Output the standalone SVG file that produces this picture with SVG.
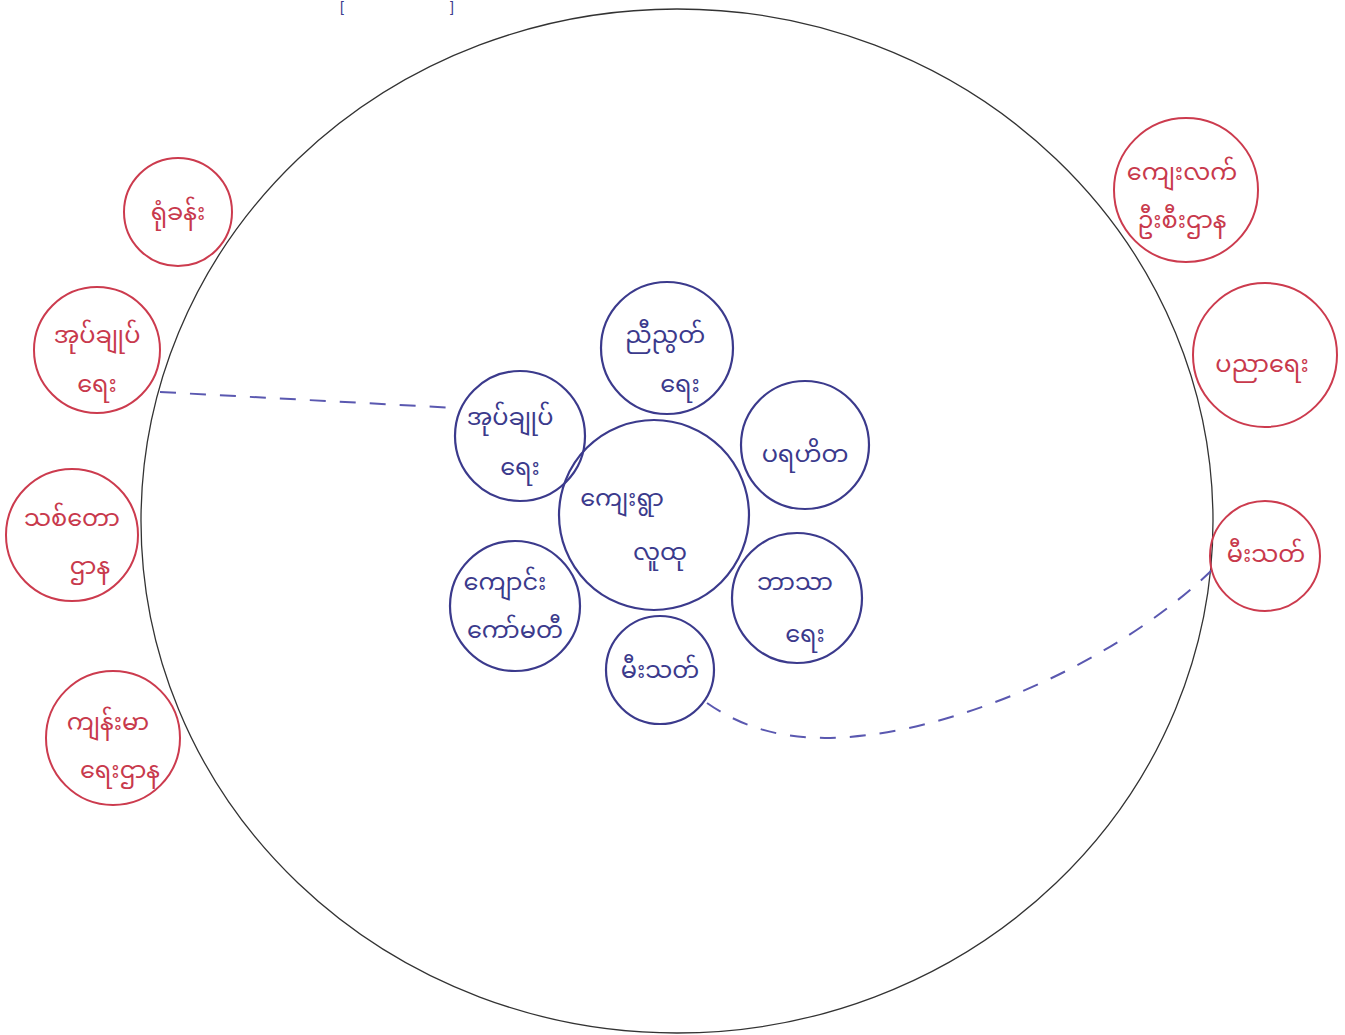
<svg xmlns="http://www.w3.org/2000/svg" width="1345" height="1035" viewBox="0 0 1345 1035">
<style>
.red{fill:none;stroke:#cc3b4e;stroke-width:2}
.blue{fill:none;stroke:#3b3a8c;stroke-width:2.2}
.tr{font-family:"Noto Sans Myanmar","Padauk","Myanmar Text","Noto Sans","DejaVu Sans",sans-serif;font-size:24px;fill:#c8394c;text-anchor:middle}
.tb{font-family:"Noto Sans Myanmar","Padauk","Myanmar Text","Noto Sans","DejaVu Sans",sans-serif;font-size:24px;fill:#3b3a8c;text-anchor:middle}
.dash{fill:none;stroke:#5a58b0;stroke-width:2;stroke-dasharray:16 14}
</style>
<rect width="1345" height="1035" fill="#ffffff"/>
<g id="title">
<text x="340" y="12" class="tb" style="text-anchor:start;font-family:'Liberation Sans',sans-serif;font-size:14px">[</text>
<text x="450" y="12" class="tb" style="text-anchor:start;font-family:'Liberation Sans',sans-serif;font-size:14px">]</text>
</g>
<g id="boundary"><ellipse cx="677" cy="521" rx="536" ry="512" fill="none" stroke="#333" stroke-width="1.3"/></g>
<g id="connectors">
<path class="dash" d="M160 392 L455 408"/>
<path class="dash" d="M707 703 C 760 740, 820 745, 900 730 C 1020 705, 1140 640, 1212 570"/>
</g>
<g id="n-office"><circle class="red" cx="178" cy="212" r="54"/><text class="tr" x="178" y="220">ရုံခန်း</text></g>
<g id="n-admin-out"><circle class="red" cx="97" cy="350" r="63"/><text class="tr" x="97" y="343">အုပ်ချုပ်</text><text class="tr" x="97" y="392">ရေး</text></g>
<g id="n-forest"><circle class="red" cx="72" cy="535" r="66"/><text class="tr" x="72" y="526">သစ်တော</text><text class="tr" x="90" y="574">ဌာန</text></g>
<g id="n-health"><circle class="red" cx="113" cy="738" r="67"/><text class="tr" x="108" y="730">ကျန်းမာ</text><text class="tr" x="120" y="778">ရေးဌာန</text></g>
<g id="n-rural"><circle class="red" cx="1186" cy="190" r="72"/><text class="tr" x="1182" y="180">ကျေးလက်</text><text class="tr" x="1182" y="228">ဦးစီးဌာန</text></g>
<g id="n-edu"><circle class="red" cx="1265" cy="355" r="72"/><text class="tr" x="1262" y="372">ပညာရေး</text></g>
<g id="n-fire-out"><circle class="red" cx="1265" cy="556" r="55"/><text class="tr" x="1266" y="562">မီးသတ်</text></g>
<g id="n-village"><circle class="blue" cx="654" cy="515" r="95"/><text class="tb" x="622" y="506">ကျေးရွာ</text><text class="tb" x="660" y="560">လူထု</text></g>
<g id="n-unity"><circle class="blue" cx="667" cy="348" r="66"/><text class="tb" x="665" y="343">ညီညွတ်</text><text class="tb" x="680" y="392">ရေး</text></g>
<g id="n-admin-in"><circle class="blue" cx="520" cy="436" r="65"/><text class="tb" x="510" y="425">အုပ်ချုပ်</text><text class="tb" x="520" y="475">ရေး</text></g>
<g id="n-charity"><circle class="blue" cx="805" cy="445" r="64"/><text class="tb" x="805" y="462">ပရဟိတ</text></g>
<g id="n-school"><circle class="blue" cx="515" cy="606" r="65"/><text class="tb" x="505" y="590">ကျောင်း</text><text class="tb" x="515" y="638">ကော်မတီ</text></g>
<g id="n-religion"><circle class="blue" cx="797" cy="598" r="65"/><text class="tb" x="795" y="590">ဘာသာ</text><text class="tb" x="805" y="642">ရေး</text></g>
<g id="n-fire-in"><circle class="blue" cx="660" cy="670" r="54"/><text class="tb" x="660" y="678">မီးသတ်</text></g>
</svg>
